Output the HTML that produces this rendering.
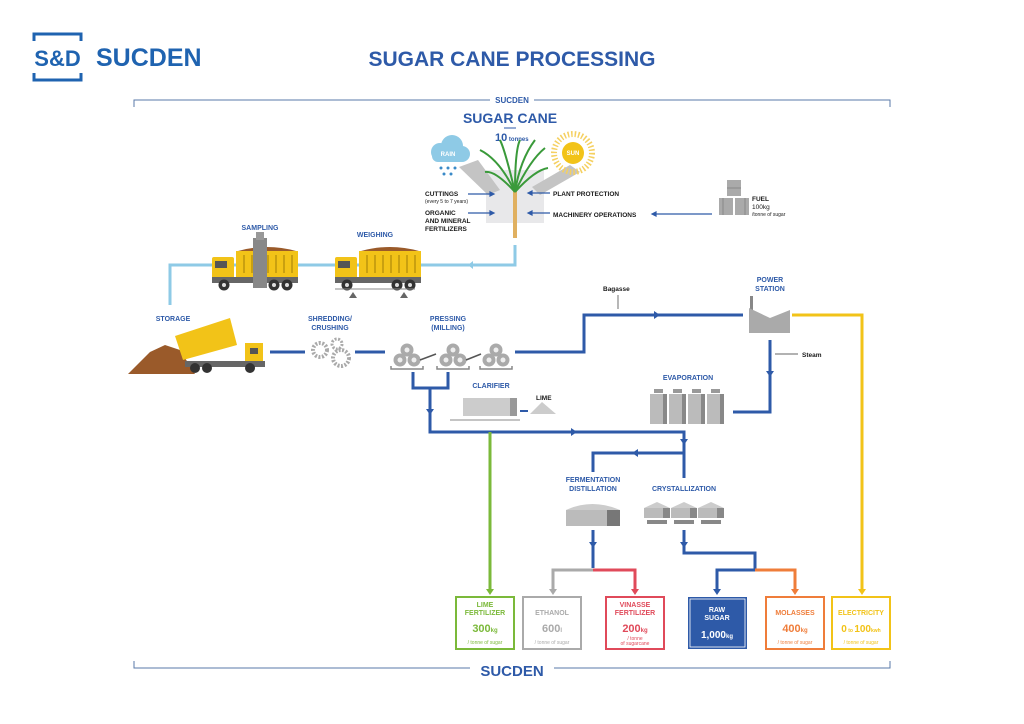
<!DOCTYPE html>
<html><head><meta charset="utf-8"><style>
html,body{margin:0;padding:0;background:#fff}
svg{display:block}
text{font-family:"Liberation Sans",sans-serif}
.b{fill:#2e5aa8;font-weight:bold}
.k{fill:#1a1a1a;font-weight:bold}
</style></head><body>
<svg width="1024" height="724" viewBox="0 0 1024 724" xmlns="http://www.w3.org/2000/svg">
<defs>
<g id="truck">
 <rect x="0" y="10" width="22" height="22" rx="2" fill="#f2c318"/>
 <rect x="3" y="14" width="12" height="7" fill="#555"/>
 <rect x="24" y="4" width="62" height="26" fill="#f2c318"/>
 <g stroke="#c9a010" stroke-width="2">
  <line x1="32" y1="8" x2="32" y2="26"/><line x1="40" y1="8" x2="40" y2="26"/><line x1="48" y1="8" x2="48" y2="26"/><line x1="56" y1="8" x2="56" y2="26"/><line x1="64" y1="8" x2="64" y2="26"/><line x1="72" y1="8" x2="72" y2="26"/><line x1="80" y1="8" x2="80" y2="26"/>
 </g>
 <path d="M26 4 Q55 -4 84 4 Z" fill="#9a5a2a"/>
 <rect x="0" y="30" width="86" height="6" fill="#666"/>
 <circle cx="12" cy="38" r="5.5" fill="#333"/><circle cx="12" cy="38" r="2" fill="#ddd"/>
 <circle cx="62" cy="38" r="5.5" fill="#333"/><circle cx="62" cy="38" r="2" fill="#ddd"/>
 <circle cx="75" cy="38" r="5.5" fill="#333"/><circle cx="75" cy="38" r="2" fill="#ddd"/>
</g>
<g id="mill">
 <circle cx="9" cy="0" r="6.5" fill="#aaa"/><circle cx="9" cy="0" r="2.5" fill="#eee"/>
 <circle cx="2" cy="10" r="6.5" fill="#aaa"/><circle cx="2" cy="10" r="2.5" fill="#eee"/>
 <circle cx="16" cy="10" r="6.5" fill="#aaa"/><circle cx="16" cy="10" r="2.5" fill="#eee"/>
 <path d="M-7 16 v3 h32 v-3" fill="none" stroke="#888" stroke-width="1.5"/>
</g>
<g id="tank">
 <rect x="0" y="6" width="17" height="30" fill="#bbb"/><rect x="13" y="6" width="4" height="30" fill="#888"/>
 <rect x="4" y="1" width="9" height="4" fill="#999"/>
</g>
<g id="cryst">
 <path d="M0 8 L13 2 L26 8 Z" fill="#ccc"/>
 <rect x="0" y="8" width="26" height="10" fill="#bbb"/><rect x="19" y="8" width="7" height="10" fill="#888"/>
 <rect x="3" y="20" width="20" height="4" fill="#888"/>
</g>
</defs>

<!-- logo -->
<path d="M34 41 V34 H81 V41 M34 73 V80 H81 V73" fill="none" stroke="#1f63b0" stroke-width="3"/>
<text x="57.5" y="66" text-anchor="middle" font-size="22" font-weight="bold" fill="#1f63b0">S&amp;D</text>
<text x="96" y="66" font-size="25" font-weight="bold" fill="#1f63b0">SUCDEN</text>
<text x="512" y="66" text-anchor="middle" font-size="21" font-weight="bold" fill="#2e5aa8">SUGAR CANE PROCESSING</text>

<!-- brackets -->
<path d="M134 107 V100 H490 M534 100 H890 V107" fill="none" stroke="#5a7aa8" stroke-width="1"/>
<text x="512" y="103" text-anchor="middle" font-size="8" class="b">SUCDEN</text>
<path d="M134 661 V668 H470 M554 668 H890 V661" fill="none" stroke="#5a7aa8" stroke-width="1"/>
<text x="512" y="676" text-anchor="middle" font-size="15" class="b">SUCDEN</text>

<!-- sugar cane -->
<text x="510" y="123" text-anchor="middle" font-size="14" class="b">SUGAR CANE</text>
<line x1="504" y1="128" x2="516" y2="128" stroke="#2e5aa8"/>
<text x="495" y="141" font-size="11" class="b">10<tspan font-size="6"> tonnes</tspan></text>
<rect x="486" y="170" width="58" height="53" fill="#e8e8ea"/>
<path d="M459 167 L478 160 L500 190 L488 195 Z" fill="#c4c4c4"/>
<path d="M570 165 L580 172 L540 195 L532 187 Z" fill="#c4c4c4"/>
<rect x="513" y="190" width="4" height="48" fill="#e0b060"/>
<g stroke="#3a9a3a" stroke-width="2" fill="none">
<path d="M515 192 Q500 160 480 150"/><path d="M515 192 Q505 150 500 140"/><path d="M515 192 Q515 150 520 140"/><path d="M515 192 Q530 160 545 148"/><path d="M515 192 Q535 170 548 168"/><path d="M515 192 Q495 170 485 172"/><path d="M515 192 Q520 160 535 140"/>
</g>
<!-- rain cloud -->
<circle cx="440" cy="152" r="9" fill="#8ecae6"/><circle cx="452" cy="146" r="11" fill="#8ecae6"/><circle cx="462" cy="154" r="8" fill="#8ecae6"/>
<rect x="432" y="150" width="34" height="12" rx="6" fill="#8ecae6"/>
<text x="448" y="156" text-anchor="middle" font-size="6" font-weight="bold" fill="#fff">RAIN</text>
<g fill="#3a8ac8"><circle cx="441" cy="168" r="1.5"/><circle cx="448" cy="168" r="1.5"/><circle cx="455" cy="168" r="1.5"/><circle cx="444" cy="174" r="1.5"/><circle cx="451" cy="174" r="1.5"/></g>
<!-- sun -->
<circle cx="573" cy="153" r="19" fill="none" stroke="#f5d060" stroke-width="6" stroke-dasharray="1.5 2"/>
<circle cx="573" cy="153" r="11" fill="#f2c318"/>
<text x="573" y="155" text-anchor="middle" font-size="6" font-weight="bold" fill="#fff">SUN</text>
<g font-size="6.5" class="k">
<text x="425" y="196">CUTTINGS</text>
<text x="425" y="203" font-size="5" font-weight="normal">(every 5 to 7 years)</text>
<text x="425" y="215">ORGANIC</text><text x="425" y="223">AND MINERAL</text><text x="425" y="231">FERTILIZERS</text>
<text x="553" y="196">PLANT PROTECTION</text>
<text x="553" y="217">MACHINERY OPERATIONS</text>
<text x="752" y="201">FUEL</text>
<text x="752" y="209" font-weight="normal">100kg</text>
<text x="752" y="216" font-size="5" font-weight="normal">/tonne of sugar</text>
</g>
<g stroke="#2e5aa8" stroke-width="1.2" fill="#2e5aa8">
<line x1="468" y1="194" x2="492" y2="194"/><path d="M494 194 l-4 -2 v4z"/>
<line x1="468" y1="213" x2="492" y2="213"/><path d="M494 213 l-4 -2 v4z"/>
<line x1="550" y1="193" x2="530" y2="193"/><path d="M528 193 l4 -2 v4z"/>
<line x1="550" y1="213" x2="530" y2="213"/><path d="M528 213 l4 -2 v4z"/>
<line x1="712" y1="214" x2="655" y2="214"/><path d="M652 214 l4 -2 v4z"/>
</g>
<!-- fuel barrels -->
<rect x="727" y="180" width="14" height="16" fill="#aaa"/><rect x="719" y="198" width="14" height="17" fill="#aaa"/><rect x="735" y="198" width="14" height="17" fill="#aaa"/>
<g stroke="#888" stroke-width="1"><line x1="727" y1="188" x2="741" y2="188"/><line x1="723" y1="198" x2="723" y2="215"/><line x1="745" y1="198" x2="745" y2="215"/></g>

<!-- light blue path -->
<path d="M515 245 V265 H170 V305" fill="none" stroke="#8ecae6" stroke-width="3"/>
<path d="M468 265 l5 -4 v8z" fill="#8ecae6"/>
<use href="#truck" x="212" y="247"/>
<rect x="253" y="238" width="14" height="50" fill="#888"/>
<rect x="256" y="232" width="8" height="8" fill="#999"/>
<text x="260" y="230" text-anchor="middle" font-size="7" class="b">SAMPLING</text>
<use href="#truck" x="335" y="247"/>
<line x1="335" y1="289" x2="415" y2="289" stroke="#888"/>
<path d="M349 298 l4 -6 l4 6z M400 298 l4 -6 l4 6z" fill="#666"/>
<text x="375" y="237" text-anchor="middle" font-size="7" class="b">WEIGHING</text>

<!-- storage -->
<text x="173" y="321" text-anchor="middle" font-size="7" class="b">STORAGE</text>
<path d="M128 374 L150 352 L165 345 L180 350 L195 374 Z" fill="#9a5a2a"/>
<path d="M175 336 L230 318 L237 345 L183 360 Z" fill="#f2c318"/>
<rect x="245" y="343" width="18" height="20" fill="#f2c318"/><rect x="250" y="348" width="8" height="6" fill="#555"/>
<rect x="185" y="361" width="80" height="6" fill="#666"/>
<circle cx="195" cy="368" r="5" fill="#333"/><circle cx="207" cy="368" r="5" fill="#333"/><circle cx="250" cy="368" r="5" fill="#333"/>

<!-- main blue line -->
<g stroke="#2e5aa8" stroke-width="3" fill="none">
<line x1="270" y1="352" x2="305" y2="352"/>
<line x1="355" y1="352" x2="385" y2="352"/>
<path d="M515 352 H584 V315 H743"/>
<path d="M413 372 V388 H448 V372 M430 388 V432 H684 V453 M684 453 H593 V472 M684 453 V478"/>
<path d="M770 340 V412 H733"/>
<path d="M593 530 V568 M684 530 V553 H755 V570"/>
</g>
<g fill="#2e5aa8">
<path d="M660 315 l-6 -4 v8z"/><path d="M770 377 l-4 -6 h8z"/><path d="M430 415 l-4 -6 h8z"/>
<path d="M577 432 l-6 -4 v8z"/><path d="M684 445 l-4 -6 h8z"/><path d="M632 453 l6 -4 v8z"/>
<path d="M593 548 l-4 -6 h8z"/><path d="M684 548 l-4 -6 h8z"/>
</g>
<text x="603" y="291" font-size="6.5" class="k">Bagasse</text>
<line x1="618" y1="295" x2="618" y2="309" stroke="#333" stroke-width="0.7"/>
<text x="802" y="357" font-size="6.5" class="k">Steam</text>
<line x1="775" y1="354" x2="798" y2="354" stroke="#333" stroke-width="0.7"/>

<!-- shredding -->
<text x="330" y="321" text-anchor="middle" font-size="7" class="b">SHREDDING/</text>
<text x="330" y="330" text-anchor="middle" font-size="7" class="b">CRUSHING</text>
<circle cx="320" cy="350" r="7" fill="none" stroke="#aaa" stroke-width="4" stroke-dasharray="2 1.5"/>
<circle cx="337" cy="344" r="5" fill="none" stroke="#aaa" stroke-width="3" stroke-dasharray="2 1.5"/>
<circle cx="341" cy="358" r="8" fill="none" stroke="#aaa" stroke-width="4" stroke-dasharray="2 1.5"/>

<!-- pressing -->
<text x="448" y="321" text-anchor="middle" font-size="7" class="b">PRESSING</text>
<text x="448" y="330" text-anchor="middle" font-size="7" class="b">(MILLING)</text>
<use href="#mill" x="398" y="350"/><use href="#mill" x="444" y="350"/><use href="#mill" x="487" y="350"/>
<line x1="420" y1="360" x2="436" y2="354" stroke="#555" stroke-width="1.5"/>
<line x1="466" y1="360" x2="481" y2="354" stroke="#555" stroke-width="1.5"/>

<!-- clarifier -->
<text x="491" y="388" text-anchor="middle" font-size="7" class="b">CLARIFIER</text>
<rect x="463" y="398" width="52" height="18" fill="#ccc"/><rect x="510" y="398" width="7" height="18" fill="#999"/>
<line x1="450" y1="420" x2="520" y2="420" stroke="#888"/>
<text x="536" y="400" font-size="6.5" class="k">LIME</text>
<path d="M530 414 L542 402 L556 414 Z" fill="#ccc"/>
<line x1="520" y1="411" x2="528" y2="411" stroke="#2e5aa8" stroke-width="2"/>

<!-- power station -->
<text x="770" y="282" text-anchor="middle" font-size="7" class="b">POWER</text>
<text x="770" y="291" text-anchor="middle" font-size="7" class="b">STATION</text>
<rect x="750" y="296" width="3" height="15" fill="#888"/>
<path d="M749 333 V308 L770 318 V333 Z M770 333 V318 L790 310 V333 Z" fill="#aaa"/>

<!-- evaporation -->
<text x="688" y="380" text-anchor="middle" font-size="7" class="b">EVAPORATION</text>
<use href="#tank" x="650" y="388"/><use href="#tank" x="669" y="388"/><use href="#tank" x="688" y="388"/><use href="#tank" x="707" y="388"/>

<!-- fermentation -->
<text x="593" y="482" text-anchor="middle" font-size="7" class="b">FERMENTATION</text>
<text x="593" y="491" text-anchor="middle" font-size="7" class="b">DISTILLATION</text>
<path d="M566 510 Q592 498 620 510 Z" fill="#ccc"/>
<rect x="566" y="510" width="54" height="16" fill="#bbb"/><rect x="607" y="510" width="13" height="16" fill="#777"/>
<text x="684" y="491" text-anchor="middle" font-size="7" class="b">CRYSTALLIZATION</text>
<use href="#cryst" x="644" y="500"/><use href="#cryst" x="671" y="500"/><use href="#cryst" x="698" y="500"/>

<!-- colored outputs -->
<g fill="none" stroke-width="3">
<path d="M490 432 V592" stroke="#7bb93a"/>
<path d="M593 570 H553 V590" stroke="#aaa"/>
<path d="M593 570 H635 V590" stroke="#e04a5a"/>
<path d="M755 570 H717 V590" stroke="#2e5aa8"/>
<path d="M755 570 H795 V590" stroke="#ef7d3a"/>
<path d="M792 315 H862 V590" stroke="#f2c318"/>
</g>
<path d="M490 595 l-4 -6 h8z" fill="#7bb93a"/><path d="M553 595 l-4 -6 h8z" fill="#aaa"/><path d="M635 595 l-4 -6 h8z" fill="#e04a5a"/>
<path d="M717 595 l-4 -6 h8z" fill="#2e5aa8"/><path d="M795 595 l-4 -6 h8z" fill="#ef7d3a"/><path d="M862 595 l-4 -6 h8z" fill="#f2c318"/>

<g font-weight="bold" text-anchor="middle">
<rect x="456" y="597" width="58" height="52" fill="none" stroke="#7bb93a" stroke-width="2"/>
<text x="485" y="607" font-size="7" fill="#7bb93a">LIME</text><text x="485" y="615" font-size="7" fill="#7bb93a">FERTILIZER</text>
<text x="485" y="632" font-size="11" fill="#7bb93a">300<tspan font-size="6">kg</tspan></text>
<text x="485" y="644" font-size="5" font-weight="normal" fill="#7bb93a">/ tonne of sugar</text>

<rect x="523" y="597" width="58" height="52" fill="none" stroke="#aaa" stroke-width="2"/>
<text x="552" y="615" font-size="7" fill="#aaa">ETHANOL</text>
<text x="552" y="632" font-size="11" fill="#aaa">600<tspan font-size="6">l</tspan></text>
<text x="552" y="644" font-size="5" font-weight="normal" fill="#aaa">/ tonne of sugar</text>

<rect x="606" y="597" width="58" height="52" fill="none" stroke="#e04a5a" stroke-width="2"/>
<text x="635" y="607" font-size="7" fill="#e04a5a">VINASSE</text><text x="635" y="615" font-size="7" fill="#e04a5a">FERTILIZER</text>
<text x="635" y="632" font-size="11" fill="#e04a5a">200<tspan font-size="6">kg</tspan></text>
<text x="635" y="640" font-size="5" font-weight="normal" fill="#e04a5a">/ tonne</text>
<text x="635" y="645" font-size="5" font-weight="normal" fill="#e04a5a">of sugarcane</text>

<rect x="688" y="597" width="59" height="52" fill="#2e5aa8"/>
<rect x="690" y="599" width="55" height="48" fill="none" stroke="#fff" stroke-width="0.8"/>
<text x="717" y="612" font-size="7" fill="#fff">RAW</text><text x="717" y="620" font-size="7" fill="#fff">SUGAR</text>
<text x="717" y="638" font-size="10" fill="#fff">1,000<tspan font-size="6">kg</tspan></text>

<rect x="766" y="597" width="58" height="52" fill="none" stroke="#ef7d3a" stroke-width="2"/>
<text x="795" y="615" font-size="7" fill="#ef7d3a">MOLASSES</text>
<text x="795" y="632" font-size="11" fill="#ef7d3a">400<tspan font-size="6">kg</tspan></text>
<text x="795" y="644" font-size="5" font-weight="normal" fill="#ef7d3a">/ tonne of sugar</text>

<rect x="832" y="597" width="58" height="52" fill="none" stroke="#f2c318" stroke-width="2"/>
<text x="861" y="615" font-size="7" fill="#f2c318">ELECTRICITY</text>
<text x="861" y="632" font-size="10" fill="#f2c318">0<tspan font-size="5"> to </tspan>100<tspan font-size="5">kwh</tspan></text>
<text x="861" y="644" font-size="5" font-weight="normal" fill="#f2c318">/ tonne of sugar</text>
</g>
</svg>
</body></html>
